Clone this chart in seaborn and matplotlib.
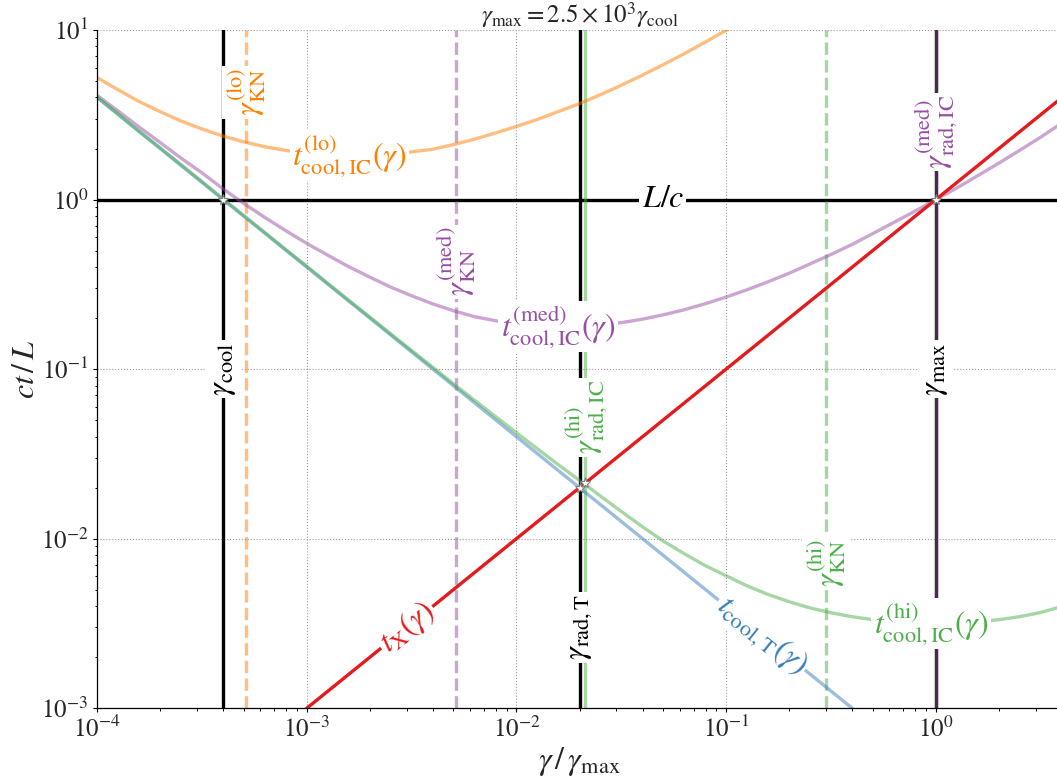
import math
import matplotlib
matplotlib.use('Agg')
import matplotlib.pyplot as plt
import seaborn as sns

gamma_grid = [1e-4, 1.26e-4, 1.58e-4, 2e-4, 2.51e-4, 3.16e-4, 3.98e-4, 5.01e-4, 6.31e-4, 7.94e-4,
              1e-3, 1.26e-3, 1.58e-3, 2e-3, 2.51e-3, 3.16e-3, 3.98e-3, 5.01e-3, 6.31e-3, 7.94e-3,
              1e-2, 1.26e-2, 1.58e-2, 2e-2, 2.51e-2, 3.16e-2, 3.98e-2, 5.01e-2, 6.31e-2, 7.94e-2,
              0.1, 0.126, 0.158, 0.2, 0.251, 0.316, 0.398, 0.501, 0.631, 0.794,
              1.0, 1.26, 1.58, 2.0, 2.51, 3.16, 3.98]

# ct/L of the inverse-Compton cooling time, three seed-photon cases
t_ic_lo = [5.24, 4.44, 3.80, 3.30, 2.91, 2.61, 2.37, 2.19, 2.05, 1.95,
           1.87, 1.83, 1.82, 1.82, 1.85, 1.91, 1.98, 2.11, 2.27, 2.47,
           2.70, 2.97, 3.30, 3.68, 4.15, 4.72, 5.41, 6.24, 7.24, 8.47,
           9.95, 11.7]
t_ic_med = [4.12, 3.33, 2.69, 2.17, 1.76, 1.44, 1.16, 0.948, 0.785, 0.656,
            0.552, 0.470, 0.403, 0.349, 0.305, 0.271, 0.243, 0.221, 0.204, 0.193,
            0.184, 0.180, 0.178, 0.179, 0.182, 0.188, 0.197, 0.209, 0.224, 0.243,
            0.266, 0.294, 0.327, 0.368, 0.417, 0.474, 0.543, 0.630, 0.733, 0.853,
            1.0, 1.17, 1.38, 1.64, 1.95, 2.33, 2.82]
t_ic_hi = [4.03, 3.20, 2.54, 2.02, 1.61, 1.28, 1.01, 0.805, 0.640, 0.508,
           0.405, 0.321, 0.256, 0.203, 0.162, 0.129, 0.103, 0.0820, 0.0656, 0.0526,
           0.0422, 0.0339, 0.0274, 0.0221, 0.0179, 0.0145, 0.0118, 0.00970, 0.00817, 0.00695,
           0.00605, 0.00527, 0.00470, 0.00425, 0.00391, 0.00366, 0.00347, 0.00333, 0.00324, 0.00318,
           0.00316, 0.00318, 0.00324, 0.00333, 0.00347, 0.00367, 0.00398]

# Thomson cooling time and escape time
gamma_thomson = [1e-4, 0.4]
t_thomson = [4.0, 1e-3]
gamma_x = [1e-3, 4.0]
t_x = [1e-3, 4.0]

# characteristic Lorentz factors (in units of gamma_max)
gamma_cool = 4e-4
gamma_max = 1.0
gamma_rad_T = 0.02
gamma_rad_IC_hi = 0.0213
gamma_rad_IC_med = 1.0
gamma_kn_lo = 5.15e-4
gamma_kn_med = 5.15e-3
gamma_kn_hi = 0.3

star_x = [gamma_cool, gamma_rad_T, gamma_rad_IC_hi, gamma_max]
star_y = [1.0, gamma_rad_T, gamma_rad_IC_hi, 1.0]

sns.set_style('ticks')
plt.rcParams['font.family'] = 'STIXGeneral'
plt.rcParams['mathtext.fontset'] = 'stix'

red, blue, green, purple, orange = sns.color_palette('Set1', 5)

fig = plt.figure(figsize=(10.57, 7.8), dpi=100)
ax = fig.add_axes([97 / 1057, 71.7 / 780, 965 / 1057, 678.3 / 780])
ax.set_xscale('log')
ax.set_yscale('log')

lw = 2.4
# reference lines
ax.axhline(1.0, color='k', lw=lw, zorder=2)
for g in [gamma_cool, gamma_rad_T, gamma_max]:
    ax.axvline(g, color='k', lw=lw, zorder=2)
ax.axvline(gamma_rad_IC_hi, color=green, alpha=0.5, lw=lw, zorder=2.1)
ax.axvline(gamma_rad_IC_med, color=purple, alpha=0.5, lw=lw, zorder=2.1)
ax.axvline(gamma_kn_lo, color=orange, alpha=0.5, lw=lw, ls='--', zorder=2.1)
ax.axvline(gamma_kn_med, color=purple, alpha=0.5, lw=lw, ls='--', zorder=2.1)
ax.axvline(gamma_kn_hi, color=green, alpha=0.5, lw=lw, ls='--', zorder=2.1)

# cooling curves
sns.lineplot(x=gamma_grid[:len(t_ic_lo)], y=t_ic_lo, ax=ax, color=orange, alpha=0.5, lw=lw, zorder=2.2)
sns.lineplot(x=gamma_grid, y=t_ic_med, ax=ax, color=purple, alpha=0.5, lw=lw, zorder=2.2)
sns.lineplot(x=gamma_thomson, y=t_thomson, ax=ax, color=blue, alpha=0.5, lw=lw, zorder=2.2)
sns.lineplot(x=gamma_grid, y=t_ic_hi, ax=ax, color=green, alpha=0.5, lw=lw, zorder=2.2)
sns.lineplot(x=gamma_x, y=t_x, ax=ax, color=red, lw=lw, zorder=2.3)

ax.plot(star_x, star_y, ls='none', marker='*', ms=8, mfc='white', mec='gray',
        mew=0.8, zorder=6)

ax.set_xlim(1e-4, 4.0)
ax.set_ylim(1e-3, 10)


def screen_angle(x0, y0, x1, y1):
    p0 = ax.transData.transform((x0, y0))
    p1 = ax.transData.transform((x1, y1))
    return math.degrees(math.atan2(p1[1] - p0[1], p1[0] - p0[0]))


def put_label(x, y, text, color, rot=0, size=23):
    ax.text(x, y, text, color=color, fontsize=size, rotation=rot,
            rotation_mode='anchor', ha='center', va='center', zorder=10,
            bbox=dict(fc='white', ec='none', pad=1.5))


# labels on vertical lines
put_label(gamma_cool, 0.1, r'$\gamma_{\rm cool}$', 'k', 90)
put_label(gamma_max, 0.1, r'$\gamma_{\rm max}$', 'k', 90)
put_label(gamma_rad_T, 3e-3, r'$\gamma_{\rm rad,T}$', 'k', 90)
put_label(gamma_rad_IC_hi, 0.052, r'$\gamma^{\rm (hi)}_{\rm rad,IC}$', green, 90)
put_label(gamma_rad_IC_med, 2.5, r'$\gamma^{\rm (med)}_{\rm rad,IC}$', purple, 90)
put_label(gamma_kn_lo, 4.3, r'$\gamma^{\rm (lo)}_{\rm KN}$', orange, 90)
put_label(gamma_kn_med, 0.43, r'$\gamma^{\rm (med)}_{\rm KN}$', purple, 90)
put_label(gamma_kn_hi, 0.0072, r'$\gamma^{\rm (hi)}_{\rm KN}$', green, 90)

# labels on curves
put_label(0.05, 1.0, r'$L/c$', 'k')
put_label(1.6e-3, 1.82, r'$t^{\rm (lo)}_{\rm cool,IC}(\gamma)$', orange)
put_label(0.0158, 0.178, r'$t^{\rm (med)}_{\rm cool,IC}(\gamma)$', purple)
put_label(0.95, 0.00316, r'$t^{\rm (hi)}_{\rm cool,IC}(\gamma)$', green)
put_label(3e-3, 3e-3, r'$t_{\rm X}(\gamma)$', red, screen_angle(1e-3, 1e-3, 1, 1))
put_label(0.148, 4e-4 / 0.148, r'$t_{\rm cool,T}(\gamma)$', blue,
          screen_angle(1e-4, 4.0, 0.4, 1e-3))

ax.grid(True, which='major', ls=':', color='0.6', lw=0.8, zorder=0)
ax.set_axisbelow(True)
sns.despine(ax=ax)
ax.tick_params(which='major', length=3.2, width=0.8, labelsize=18, pad=3, color='k')
ax.tick_params(which='minor', length=1.8, width=0.7, color='k')
for sp in ['left', 'bottom']:
    ax.spines[sp].set_color('k')
    ax.spines[sp].set_linewidth(0.9)

ax.set_xlabel(r'$\gamma\,/\,\gamma_{\rm max}$', fontsize=23, labelpad=1)
ax.set_ylabel(r'$ct\,/\,L$', fontsize=23, labelpad=0)
ax.set_title(r'$\gamma_{\rm max} = 2.5\times10^3\gamma_{\rm cool}$', fontsize=18, pad=1)

fig.savefig('out.png', dpi=100)
plt.close()
